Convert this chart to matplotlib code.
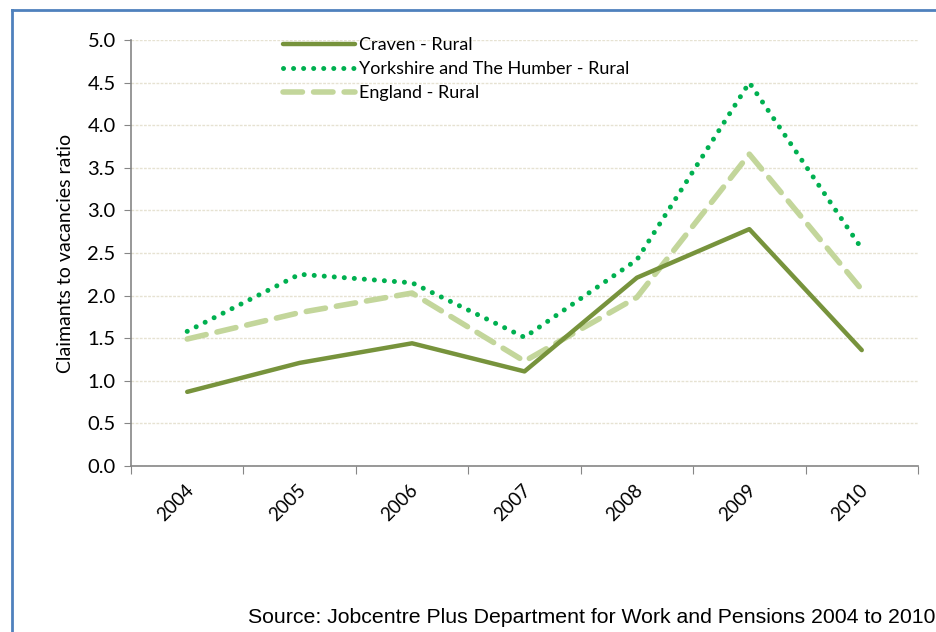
import numpy as np
import matplotlib.pyplot as plt
import matplotlib.transforms as mtransforms
from matplotlib.lines import Line2D

# Datos
years = ['2004', '2005', '2006', '2007', '2008', '2009', '2010']
craven = [0.87, 1.21, 1.44, 1.11, 2.21, 2.78, 1.36]
yorkshire = [1.58, 2.25, 2.15, 1.51, 2.42, 4.50, 2.55]
england = [1.49, 1.80, 2.03, 1.23, 1.98, 3.66, 2.07]

fig = plt.figure(figsize=(9.37, 6.32), dpi=100)
ax = fig.add_axes([0.1398, 0.2627, 0.8399, 0.674])

x = np.arange(len(years)) + 0.5

ax.plot(x, craven, color='#77933C', linewidth=3.2, solid_capstyle='round',
        label='Craven - Rural', zorder=4)
ax.plot(x, yorkshire, color='#00B050', linewidth=3.6, linestyle=(0, (0.01, 2.0)),
        dash_capstyle='round', label='Yorkshire and The Humber - Rural', zorder=3)
ax.plot(x, england, color='#C3D69B', linewidth=4, linestyle=(0, (3.5, 2.0)),
        dash_capstyle='round', label='England - Rural', zorder=2)

# Ejes
ax.set_xlim(0, len(years))
ax.set_ylim(0, 5)
ax.set_yticks(np.arange(0, 5.01, 0.5))
ax.set_yticklabels(['%.1f' % v for v in np.arange(0, 5.01, 0.5)],
                   family='Lato', fontsize=14.5)
ax.set_xticks(np.arange(len(years) + 1))
ax.set_xticklabels([])
ax.set_xticks(x, minor=True)
ax.set_xticklabels(years, minor=True, rotation=45, family='Lato', fontsize=13.5)
ax.tick_params(axis='x', which='minor', length=0, pad=11)
ax.tick_params(axis='x', which='major', length=6, color='#868686', direction='out')
ax.tick_params(axis='y', length=5, color='#868686', direction='out', pad=6)
offset = mtransforms.ScaledTranslation(-0.12, 0, fig.dpi_scale_trans)
for lab in ax.get_xticklabels(minor=True):
    lab.set_transform(lab.get_transform() + offset)

for s in ['top', 'right']:
    ax.spines[s].set_visible(False)
for s in ['left', 'bottom']:
    ax.spines[s].set_color('#868686')
    ax.spines[s].set_linewidth(1.2)

ax.yaxis.grid(True, color='#E6E2D2', linewidth=1, linestyle=(0, (2, 1)))
ax.set_axisbelow(True)

ax.set_ylabel('Claimants to vacancies ratio', family='Lato', fontsize=14, labelpad=10)

leg = ax.legend(loc='upper left', bbox_to_anchor=(0.172, 1.045), frameon=False,
                handlelength=4.0, handletextpad=0.25, labelspacing=0.45,
                prop={'family': 'Lato', 'size': 13})

fig.text(0.265, 0.008, 'Source: Jobcentre Plus Department for Work and Pensions 2004 to 2010',
         family='Liberation Sans', fontsize=15.3, ha='left', va='bottom')

# Marco azul
fig.add_artist(Line2D([0.013, 0.013], [0, 0.984], transform=fig.transFigure,
                      color='#4F81BD', linewidth=2))
fig.add_artist(Line2D([0.013, 1.0], [0.984, 0.984], transform=fig.transFigure,
                      color='#4F81BD', linewidth=2))

plt.savefig('out.png', dpi=100)
